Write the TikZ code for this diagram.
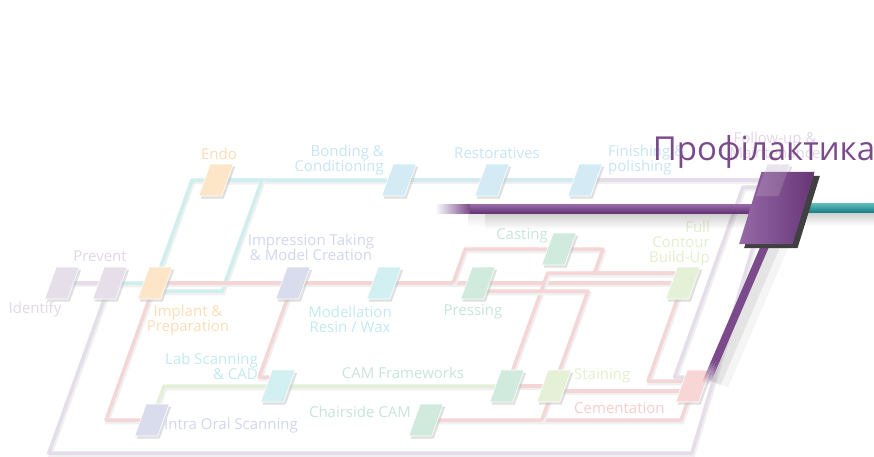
\documentclass[tikz,border=0pt]{standalone}
\usepackage{fontspec}
\setmainfont{Open Sans}
\usetikzlibrary{shadows,backgrounds,calc,fadings}

\definecolor{lavline}{HTML}{E6DDEA}
\definecolor{tealine}{HTML}{CFEEEE}
\definecolor{bluline}{HTML}{D3EBF3}
\definecolor{redline}{HTML}{F4D6D6}
\definecolor{grnline}{HTML}{E3F0D5}
\definecolor{boxlav}{HTML}{E6DFEA}
\definecolor{boxorg}{HTML}{FDE6C8}
\definecolor{boxblu}{HTML}{D4EBF6}
\definecolor{boxind}{HTML}{D9DCED}
\definecolor{boxcya}{HTML}{D2EFF1}
\definecolor{boxgrn}{HTML}{D0EADD}
\definecolor{boxlim}{HTML}{E5F1D6}
\definecolor{boxpnk}{HTML}{F8D6D6}
\definecolor{txtlav}{HTML}{E2D6E6}
\definecolor{txtorg}{HTML}{FBDCB8}
\definecolor{txtblu}{HTML}{C6E4F4}
\definecolor{txtind}{HTML}{D2D6EC}
\definecolor{txtcya}{HTML}{C2EAEE}
\definecolor{txtgrn}{HTML}{C6E6D8}
\definecolor{txtlim}{HTML}{E2EFCC}
\definecolor{txtpnk}{HTML}{F6CCCC}
\definecolor{plum}{HTML}{7B4A8B}
\definecolor{plumlt}{HTML}{9A6DAA}
\definecolor{plumdk}{HTML}{663576}
\definecolor{teal}{HTML}{1FA3A5}

\tikzset{
  wire/.style={line width=3.5pt, line join=round,
    preaction={draw=black!6, line width=3.5pt, transform canvas={shift={(1.5pt,-2.5pt)}}}},
  tile/.style={fill=#1, draw=white, line width=0.6pt, minimum width=23pt, minimum height=32pt,
    inner sep=0pt, xslant=0.36, drop shadow={shadow xshift=2pt, shadow yshift=-2.5pt, fill=black!25}},
  lbl/.style={font=\fontsize{15}{15}\selectfont, align=center, inner sep=0pt},
}

\begin{document}
\begin{tikzpicture}[x=1pt,y=-1pt]
\useasboundingbox (0,0) rectangle (874,456);

% tiles
\node[tile=boxlav] (ident) at (62,283) {};
\node[tile=boxlav] (prev) at (110,283) {};
\node[tile=boxorg] (impl) at (155,283) {};
\node[tile=boxorg] (endo) at (216,180) {};
\node[tile=boxblu] (bond) at (399,180) {};
\node[tile=boxblu] (resto) at (492,180) {};
\node[tile=boxblu] (finish) at (585,180) {};
\node[tile=boxlav] (follow) at (773,180) {};
\node[tile=boxind] (impr) at (293,283) {};
\node[tile=boxcya] (model) at (384,283) {};
\node[tile=boxgrn] (press) at (478,283) {};
\node[tile=boxgrn] (cast) at (559,249) {};
\node[tile=boxlim] (full) at (683,283) {};
\node[tile=boxcya] (labscan) at (278,386) {};
\node[tile=boxind] (intra) at (152,420) {};
\node[tile=boxgrn] (camfw) at (507,386) {};
\node[tile=boxlim] (stain) at (554,386) {};
\node[tile=boxgrn] (chair) at (426,420) {};
\node[tile=boxpnk] (cement) at (693,386) {};

% connectors
\begin{pgfonlayer}{background}
\draw[wire,lavline] (ident.center) -- (prev.center);
\draw[wire,lavline] (prev.center) -- ++(-61.2,170) -- ++(643,0) -- (follow.center);
\draw[wire,lavline] (finish.center) -- (follow.center);
\draw[wire,lavline] ([yshift=-7pt]follow.center) -- ++(-30,0) -- ++(-68.4,190) -- ([yshift=9pt]cement.center);
\draw[wire,tealine] (prev.center) -- (impl.center) -- ++(37,-103) -- (bond.center);
\draw[wire,tealine] (endo.center) -- ++(46,0) -- ++(-40,111) -- ([yshift=-8pt]impl.center);
\draw[wire,bluline] (bond.center) -- (resto.center) -- (finish.center);
\draw[wire,redline] (impl.center) -- (impr.center) -- (model.center) -- (press.center) -- (full.center);
\draw[wire,redline] (impl.center) -- ++(-49,137) -- (intra.center);
\draw[wire,redline] (impr.center) -- ++(-34,94) -- ([yshift=9pt]labscan.center);
\draw[wire,redline] ([xshift=-25pt]press.center) -- ++(12.2,-34) -- (cast.center) -- ++(44,0) -- ++(-8.6,24) -- ([yshift=10pt]full.center);
\draw[wire,redline] (camfw.center) -- ++(40.7,-113) -- ([yshift=10pt]full.center);
\draw[wire,redline] ([yshift=-8pt]press.center) -- ++(110,0) -- ++(-34,95) -- (stain.center);
\draw[wire,redline] (camfw.center) -- (stain.center);
\draw[wire,redline] ([yshift=-5pt]stain.center) -- ([yshift=-5pt]cement.center);
\draw[wire,redline] (full.center) -- ++(-35,98) -- ([yshift=5pt]cement.center);
\draw[wire,redline] (chair.center) -- ++(255,0) -- (cement.center);
\draw[wire,redline] (stain.center) -- ++(-12.2,34) coordinate (stainlow);
\draw[wire,grnline] (intra.center) -- ++(12,-34) -- (labscan.center) -- (camfw.center);
\end{pgfonlayer}

% labels
\node[lbl,text=txtlav] (ident-l) at (35,310) {Identify};
\node[lbl,text=txtlav] (prev-l) at (100,256) {Prevent};
\node[lbl,text=txtorg] (endo-l) at (219,154) {Endo};
\node[lbl,text=txtorg] (impl-l) at (188,320) {Implant \&\\Preparation};
\node[lbl,text=txtind] (impr-l) at (311,247) {Impression Taking\\\& Model Creation};
\node[lbl,text=txtblu,align=right,anchor=east] (bond-l) at (384,160) {Bonding \&\\Conditioning};
\node[lbl,text=txtblu] (resto-l) at (497,153) {Restoratives};
\node[lbl,text=txtblu,align=left,anchor=west] (finish-l) at (608,160) {Finishing \&\\polishing};
\node[lbl,text=txtlav] (follow-l) at (775,145) {Follow-up \&\\Maintenance};
\node[lbl,text=txtgrn] (cast-l) at (522,236) {Casting};
\node[lbl,text=txtlim,align=right,anchor=east] (full-l) at (710,244) {Full\\Contour\\Build-Up};
\node[lbl,text=txtcya] (model-l) at (350,319) {Modellation\\Resin / Wax};
\node[lbl,text=txtgrn] (press-l) at (473,312) {Pressing};
\node[lbl,text=txtcya,align=right,anchor=east] (lab-l) at (258,366) {Lab Scanning\\\& CAD};
\node[lbl,text=txtgrn] (camfw-l) at (403,373) {CAM Frameworks};
\node[lbl,text=txtgrn] (chair-l) at (360,412) {Chairside CAM};
\node[lbl,text=txtind,anchor=west] (intra-l) at (164,426) {Intra Oral Scanning};
\node[lbl,text=txtlim,anchor=west] (stain-l) at (574,376) {Staining};
\node[lbl,text=txtpnk,anchor=west] (cement-l) at (574,408) {Cementation};

% purple and teal bars
\fill[black, fill opacity=0.2, path fading=south] (485,213) rectangle (750,229);
\fill[black, fill opacity=0.1, path fading=south] (468,213) rectangle (485,227);
\fill[black, fill opacity=0.2, path fading=south] (800,212) rectangle (874,226);
\shade[left color=white, right color=plum] (435,204) rectangle (470,213);
\shade[top color=plumlt, bottom color=plumdk] (470,204) rectangle (760,213);
\shade[top color=teal!70!white, bottom color=teal!80!black] (800,203) rectangle (874,212);

% big tile and its leg
\node[minimum width=53pt, minimum height=72pt, xslant=0.31, inner sep=0pt] (maint) at (777,208) {};
\coordinate (legend) at (706,383);
\draw[line width=22pt, black, opacity=0.04] ([xshift=12pt]maint.south) -- ([xshift=12pt]legend);
\draw[line width=12pt, black, opacity=0.07] ([xshift=9pt]maint.south) -- ([xshift=9pt]legend);
\draw[line width=8pt, plum] (maint.south) -- ($(maint.south)!0.85!(legend)$);
\foreach \i in {0,...,9}
  \draw[line width=8pt, plum, opacity=1-\i/10] ($(maint.south)!0.85+\i*0.015!(legend)$) -- ($(maint.south)!0.865+\i*0.015!(legend)$);
\fill[black!75] ([shift={(5pt,-4pt)}]maint.south west) -- ([shift={(5pt,-4pt)}]maint.south east) -- ([shift={(5pt,-4pt)}]maint.north east) -- ([shift={(5pt,-4pt)}]maint.north west) -- cycle;
\shade[left color=plumlt!90!plum, right color=plumdk] (maint.south west) -- (maint.south east) -- (maint.north east) -- (maint.north west) -- cycle;
\node[fill=white, fill opacity=0.15, minimum width=23pt, minimum height=32pt, inner sep=0pt, xslant=0.36] (follow-gl) at (follow) {};

% title
\node[font=\fontsize{33}{33}\selectfont, text=plum, anchor=base, inner sep=0pt] (title) at (764,160) {Профілактика};
\end{tikzpicture}
\end{document}
